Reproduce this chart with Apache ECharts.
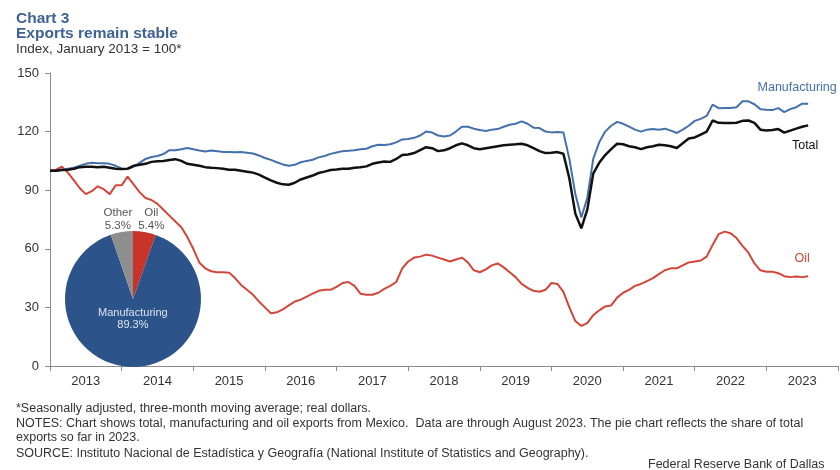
<!DOCTYPE html>
<html>
<head>
<meta charset="utf-8">
<script src="https://cdn.jsdelivr.net/npm/echarts@6/dist/echarts.min.js"></script>
<style>
  html, body { margin: 0; padding: 0; background: #fff; }
  #chart { width: 840px; height: 470px; }
</style>
</head>
<body>
<div id="chart"></div>
<script>
// Monthly index values, January 2013 = 100, from Jan 2013 through Aug 2023
const yearLabels = ['2013','2014','2015','2016','2017','2018','2019','2020','2021','2022','2023'];

const manufacturing = [
  100, 100, 100.5, 101, 101.5, 102.5, 103.5, 104, 103.8, 103.8, 103.5, 102.5,
  101, 100.8, 102, 104, 106, 107, 107.5, 108.5, 110.5, 110.5, 111, 111.6,
  111, 110.3, 109.8, 110.3, 110, 109.5, 109.6, 109.4, 109.5, 109.2, 108.8, 107.8,
  106.5, 105.5, 104.3, 103.2, 102.5, 103, 104.3, 105, 105.6, 106.8, 107.5, 108.6,
  109.3, 110, 110.2, 110.5, 111, 111.2, 112.5, 113.3, 113.2, 113.5, 114.5, 116,
  116.2, 116.8, 118, 120, 119.5, 118, 117.5, 118, 120, 122.5, 122.5, 121.5,
  120.8, 120.3, 121, 121.3, 122.5, 123.5, 124, 125.2, 124, 122, 121.8, 120,
  119.6, 119.8, 119.6, 106, 88, 76, 86, 106, 114.5, 120, 123, 125,
  124, 122.5, 121, 120, 121, 121.3, 121, 121.5, 120.5, 119.3, 121, 123,
  125.5, 126.5, 128, 133.8, 132, 132.1, 132.1, 132.5, 135.5, 135.5, 134, 131.5,
  131.2, 131, 132, 130, 131.5, 132.5, 134.3, 134.3
];

const total = [
  100, 100, 100.3, 100.5, 101, 101.8, 102, 102, 101.8, 102, 101.5, 101,
  100.8, 101, 102.5, 103, 103.5, 104.5, 104.8, 105, 105.5, 105.9, 105, 103.5,
  103, 102.5, 101.8, 101.5, 101.3, 101, 100.5, 100.5, 100, 99.5, 99, 98,
  96.5, 95, 93.8, 93, 92.8, 93.8, 95.5, 96.5, 97.5, 98.8, 99.5, 100.3,
  100.6, 101, 101, 101.5, 101.8, 102.2, 103.5, 104.2, 104.7, 104.5, 106, 108,
  108.3, 109, 110.5, 112, 111.5, 110, 110.4, 111.5, 113, 114, 113, 111.5,
  111, 111.5, 112, 112.5, 113, 113.3, 113.5, 113.8, 113, 111.5, 110, 109,
  109.2, 109.5, 108.7, 96, 78, 70.5, 80, 98.5, 104, 108, 111, 113.8,
  113.5, 112.5, 112, 111, 112, 112.5, 113.3, 113, 112.5, 111.6, 114, 116.5,
  117, 118.5, 120, 125.7, 124.5, 124.4, 124.4, 124.5, 125.5, 125.7, 124.5, 121,
  120.6, 120.8, 121.3, 119.5, 120.5, 121.5, 122.5, 123.2
];

const oil = [
  100, 100.5, 102, 99, 95, 91, 88, 89.5, 92, 90.5, 88, 92.5,
  92.5, 97, 93, 89, 86, 85, 83, 80, 77, 74, 71, 66,
  60, 53, 50, 48.5, 48, 48, 47.8, 45, 41.5, 39, 36.5, 33,
  30, 27, 27.5, 29, 31, 33, 34, 35.5, 37, 38.5, 39, 39,
  40.5, 42.5, 43, 41, 37, 36.5, 36.5, 37.5, 39.5, 41, 43, 50,
  53.5, 55.5, 56, 57, 56.5, 55.5, 54.5, 53.5, 54.5, 55.5, 53, 49,
  48, 49.5, 51.5, 52.5, 50.5, 48, 45.5, 42, 40, 38.5, 38, 39,
  42.5, 42, 38, 30, 23, 20.5, 22, 26, 28.5, 30.5, 31, 35,
  37.5, 39, 41, 42, 43.5, 45, 47, 49, 50, 50, 51.5, 53,
  53.5, 54, 56, 62, 67.5, 68.8, 68, 65.5, 61.5, 58, 52.5, 49,
  48.3, 48.3, 47.5, 46, 45.5, 45.8, 45.5, 46
];

// Share of total exports so far in 2023 (percent)
const pieNames = ['Oil', 'Manufacturing', 'Other'];
const pieShares = [5.4, 89.3, 5.3];

const COLORS = {
  manufacturing: '#4470AC',
  total: '#111111',
  oil: '#D2463A',
  pieManu: '#2C548A',
  pieOil: '#C9342A',
  pieOther: '#8E8E8E',
  title: '#3E6296',
  text: '#333333',
  axis: '#8a8a8a'
};

const FONT = "'Liberation Sans', Arial, sans-serif";

function toPairs(arr) {
  return arr.map((v, i) => [i, v]);
}

// Series name written next to the last point of each line
function endMark(arr, name, color, offset) {
  const last = arr.length - 1;
  return {
    symbol: 'circle',
    symbolSize: 0,
    silent: true,
    data: [{
      coord: [last, arr[last]],
      label: {
        show: true,
        position: 'inside',
        offset: offset,
        formatter: name,
        color: color,
        fontFamily: FONT,
        fontSize: 12.5
      }
    }]
  };
}

function textBlock(text, left, top, size, bold, color) {
  return {
    text: text, left: left, top: top, padding: 0,
    textStyle: { fontFamily: FONT, fontSize: size, fontWeight: bold ? 'bold' : 'normal', color: color }
  };
}

const chart = echarts.init(document.getElementById('chart'), null, { renderer: 'canvas' });

const option = {
  backgroundColor: '#ffffff',
  animation: false,
  title: [
    textBlock('Chart 3', 16, 10.5, 15.5, true, COLORS.title),
    textBlock('Exports remain stable', 16, 26, 15.5, true, COLORS.title),
    textBlock('Index, January 2013 = 100*', 16, 42, 13.5, false, COLORS.text),
    textBlock('*Seasonally adjusted, three-month moving average; real dollars.', 16, 402.5, 12.5, false, COLORS.text),
    textBlock('NOTES: Chart shows total, manufacturing and oil exports from Mexico.  Data are through August 2023. The pie chart reflects the share of total', 16, 417.5, 12.5, false, COLORS.text),
    textBlock('exports so far in 2023.', 16, 431, 12.5, false, COLORS.text),
    textBlock('SOURCE: Instituto Nacional de Estadística y Geografía (National Institute of Statistics and Geography).', 16, 447, 12.5, false, COLORS.text),
    textBlock('Federal Reserve Bank of Dallas', 648, 458, 12.5, false, COLORS.text)
  ],
  grid: { left: 50, right: 2, top: 73, bottom: 104, containLabel: false },
  xAxis: [
    {
      type: 'value', min: 0, max: yearLabels.length * 12, interval: 12,
      axisLine: { show: true, lineStyle: { color: COLORS.axis, width: 1 } },
      axisTick: { show: true, inside: false, length: 5, lineStyle: { color: COLORS.axis } },
      axisLabel: { show: false },
      splitLine: { show: false }
    },
    {
      type: 'category', data: yearLabels, boundaryGap: true, position: 'bottom',
      axisLine: { show: false }, axisTick: { show: false }, splitLine: { show: false },
      axisLabel: { show: true, margin: 9, color: COLORS.text, fontFamily: FONT, fontSize: 13 }
    }
  ],
  yAxis: {
    type: 'value', min: 0, max: 150, interval: 30,
    axisLine: { show: true, lineStyle: { color: COLORS.axis, width: 1 } },
    axisTick: { show: true, inside: false, length: 5, lineStyle: { color: COLORS.axis } },
    axisLabel: { color: COLORS.text, fontFamily: FONT, fontSize: 13, margin: 11 },
    splitLine: { show: false }
  },
  series: [
    {
      name: 'Oil', type: 'line', xAxisIndex: 0, data: toPairs(oil),
      showSymbol: false, lineStyle: { color: COLORS.oil, width: 2 }, itemStyle: { color: COLORS.oil },
      z: 2,
      markPoint: endMark(oil, 'Oil', COLORS.oil, [-6, -18])
    },
    {
      name: 'Manufacturing', type: 'line', xAxisIndex: 0, data: toPairs(manufacturing),
      showSymbol: false, lineStyle: { color: COLORS.manufacturing, width: 2 }, itemStyle: { color: COLORS.manufacturing },
      z: 3,
      markPoint: endMark(manufacturing, 'Manufacturing', COLORS.manufacturing, [-11, -16])
    },
    {
      name: 'Total', type: 'line', xAxisIndex: 0, data: toPairs(total),
      showSymbol: false, lineStyle: { color: COLORS.total, width: 2.5 }, itemStyle: { color: COLORS.total },
      z: 4,
      markPoint: endMark(total, 'Total', COLORS.total, [-3, 20])
    },
    {
      name: 'Share of exports', type: 'pie', center: [133, 299], radius: 68,
      startAngle: 90, clockwise: true, z: 10, silent: true,
      label: { show: true, fontFamily: FONT, fontSize: 11.5, lineHeight: 12.5 },
      labelLine: { show: false },
      data: pieNames.map((n, i) => {
        const colors = [COLORS.pieOil, COLORS.pieManu, COLORS.pieOther];
        const item = { name: n, value: pieShares[i], itemStyle: { color: colors[i], borderWidth: 0 } };
        const fmt = p => p.name + '\n' + p.value.toFixed(1) + '%';
        if (n === 'Manufacturing') {
          item.label = { position: 'inside', color: '#dbe2ef', offset: [0, -17],
            formatter: fmt, fontSize: 11, lineHeight: 12.5 };
        } else {
          // small slices: names sit just above the pie
          item.label = { position: 'inside', color: '#555555', formatter: fmt,
            offset: n === 'Oil' ? [12, -43] : [-9, -43] };
        }
        return item;
      })
    }
  ]
};

chart.setOption(option);
</script>
</body>
</html>
